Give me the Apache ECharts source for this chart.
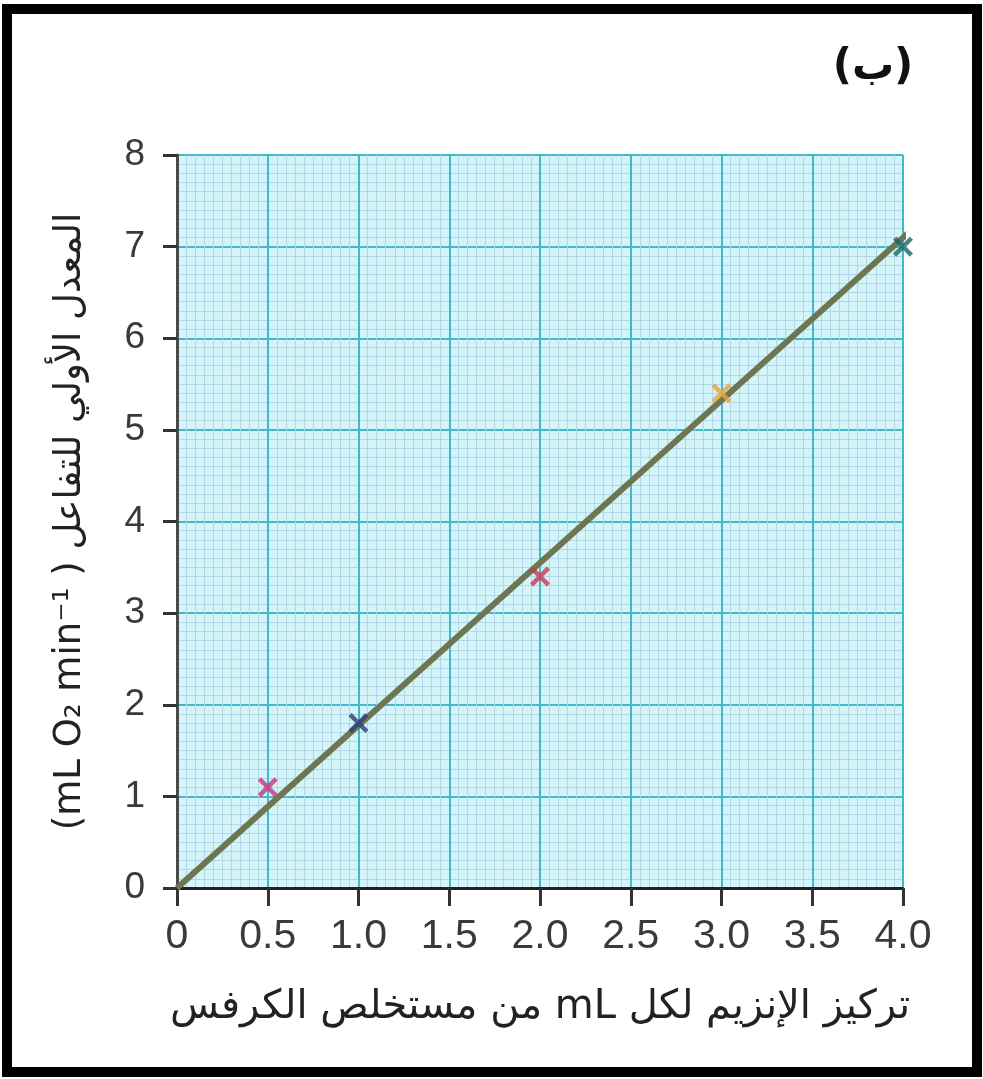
<!DOCTYPE html>
<html>
<head>
<meta charset="utf-8">
<script src="https://cdn.jsdelivr.net/npm/echarts@6/dist/echarts.min.js"></script>
<style>
html,body{margin:0;padding:0;background:#fff;}
#chart{width:983px;height:1079px;}
</style>
</head>
<body>
<div id="chart"></div>
<script>
// ---- data ----
const enzymeConc = [0.5, 1.0, 2.0, 3.0, 4.0];
const initialRate = [1.1, 1.8, 3.4, 5.4, 7.0];
const fitLineX = [0, 4.03];
const fitLineY = [0, 7.15];
const xTickLabels = ['0', '0.5', '1.0', '1.5', '2.0', '2.5', '3.0', '3.5', '4.0'];
const yTickLabels = ['0', '1', '2', '3', '4', '5', '6', '7', '8'];
const xAxisTitle = 'تركيز الإنزيم لكل mL من مستخلص الكرفس';
const yAxisTitleAr = 'المعدل الأولي للتفاعل';
const yAxisTitleUnit = '(mL O₂ min⁻¹ )';
const panelLabel = '(ب)';

// ---- styles ----
const markerColors = ['#c4347e', '#2c3d78', '#cc3552', '#e9a43a', '#17676a'];
const xPath = 'path://M0,1.6 L1.6,0 L5,3.4 L8.4,0 L10,1.6 L6.6,5 L10,8.4 L8.4,10 L5,6.6 L1.6,10 L0,8.4 L3.4,5 Z';
const rtl = s => '\u202B' + s + '\u202C';
const ltr = s => '\u202A' + s + '\u202C';

const chart = echarts.init(document.getElementById('chart'), null, {renderer: 'canvas'});
const labelFamily = 'Liberation Sans, Arial, sans-serif';

chart.setOption({
  animation: false,
  backgroundColor: '#ffffff',
  grid: {left: 177, right: 80, top: 155, bottom: 191, show: true, backgroundColor: '#d3f5fa', borderWidth: 0},
  xAxis: {
    type: 'value', min: 0, max: 4, interval: 0.5,
    name: rtl(xAxisTitle), nameLocation: 'middle', nameGap: 100,
    nameTextStyle: {color: '#222', fontSize: 40, fontFamily: 'DejaVu Sans, sans-serif'},
    axisLine: {show: true, onZero: false, lineStyle: {color: '#222', width: 3}},
    axisTick: {show: true, inside: false, length: 18, lineStyle: {color: '#333', width: 3}},
    axisLabel: {margin: 28, color: '#3a3a3a', fontSize: 41, fontFamily: labelFamily, formatter: (v) => xTickLabels[Math.round(v / 0.5)]},
    splitLine: {show: true, lineStyle: {color: '#45b9c9', width: 2}},
    minorTick: {show: false, splitNumber: 10},
    minorSplitLine: {show: true, lineStyle: {color: '#b4d6e6', width: 1}}
  },
  yAxis: {
    type: 'value', min: 0, max: 8, interval: 1,
    name: rtl(yAxisTitleAr + ' ' + ltr(yAxisTitleUnit)), nameLocation: 'middle', nameGap: 88, nameRotate: 90,
    nameTextStyle: {color: '#222', fontSize: 37, fontFamily: 'DejaVu Sans, sans-serif'},
    axisLine: {show: true, onZero: false, lineStyle: {color: '#4a4a4a', width: 3}},
    axisTick: {show: true, inside: false, length: 14, lineStyle: {color: '#333', width: 3}},
    axisLabel: {margin: 32, color: '#3a3a3a', fontSize: 37, fontFamily: labelFamily, formatter: (v) => yTickLabels[Math.round(v)]},
    splitLine: {show: true, lineStyle: {color: '#45b9c9', width: 2}},
    minorTick: {show: false, splitNumber: 10},
    minorSplitLine: {show: true, lineStyle: {color: '#b4d6e6', width: 1}}
  },
  series: [
    {
      type: 'line',
      data: fitLineX.map((x, i) => [x, fitLineY[i]]),
      showSymbol: false, symbol: 'none', clip: false,
      lineStyle: {color: '#6d7551', width: 6},
      z: 3
    },
    {
      type: 'scatter',
      data: enzymeConc.map((x, i) => ({value: [x, initialRate[i]], itemStyle: {color: markerColors[i]}})),
      symbol: xPath, symbolSize: 20,
      z: 4
    }
  ],
  graphic: [
    {type: 'rect', shape: {x: 7, y: 9, width: 970, height: 1063}, style: {fill: 'none', stroke: '#000', lineWidth: 10}, z: 10},
    {type: 'text', x: 873, y: 68, style: {text: rtl(panelLabel), fill: '#111', font: 'bold 42px DejaVu Sans, sans-serif', align: 'center', verticalAlign: 'middle'}, z: 10}
  ]
});
</script>
</body>
</html>
